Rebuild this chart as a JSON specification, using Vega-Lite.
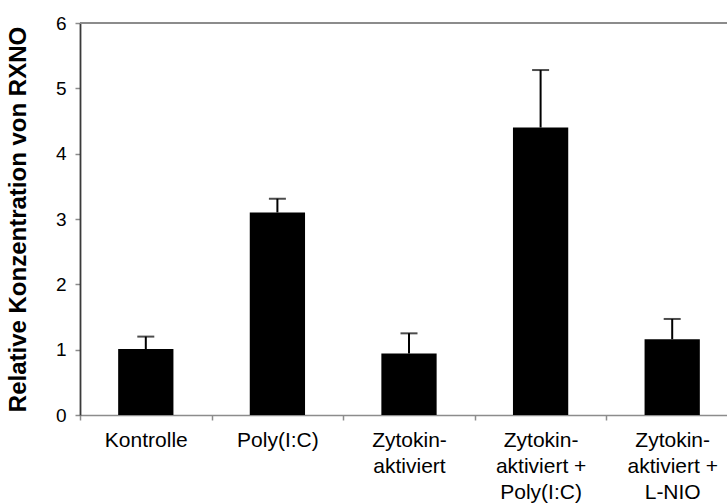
{
  "$schema": "https://vega.github.io/schema/vega-lite/v6.json",
  "autosize": "none",
  "width": 647,
  "height": 392,
  "padding": {"left": 80, "top": 23, "right": 0, "bottom": 89},
  "background": "white",
  "config": {
    "view": {"stroke": null},
    "font": "Liberation Sans",
    "axis": {"grid": false, "labelColor": "#000", "titleColor": "#000", "labelFont": "Liberation Sans", "titleFont": "Liberation Sans"}
  },
  "data": {
    "values": [
      {"gruppe": "Kontrolle", "wert": 1.01, "oben": 1.2},
      {"gruppe": "Poly(I:C)", "wert": 3.1, "oben": 3.31},
      {"gruppe": "Zytokin-\naktiviert", "wert": 0.94, "oben": 1.25},
      {"gruppe": "Zytokin-\naktiviert +\nPoly(I:C)", "wert": 4.4, "oben": 5.28},
      {"gruppe": "Zytokin-\naktiviert +\nL-NIO", "wert": 1.16, "oben": 1.47}
    ]
  },
  "encoding": {
    "x": {
      "field": "gruppe",
      "type": "nominal",
      "sort": null,
      "scale": {"range": [0, 658], "paddingInner": 0, "paddingOuter": 0},
      "axis": {
        "title": null,
        "labelAngle": 0,
        "labelExpr": "isValid(datum.value) ? split(datum.value, '\\n') : ''",
        "labelFontSize": 21,
        "labelLineHeight": 26,
        "labelPadding": 9,
        "labelBaseline": "top",
        "tickBand": "extent",
        "tickSize": 5,
        "tickColor": "#8c8c8c",
        "tickWidth": 1.5,
        "domainColor": "#8c8c8c",
        "domainWidth": 1.5
      }
    }
  },
  "layer": [
    {
      "mark": {"type": "rule", "color": "#8c8c8c", "strokeWidth": 1.5},
      "encoding": {"x": null, "y": {"datum": 6}}
    },
    {
      "mark": {"type": "bar", "color": "#000", "width": {"band": 0.42}},
      "encoding": {
        "y": {
          "field": "wert",
          "type": "quantitative",
          "scale": {"domain": [0, 6], "nice": false},
          "axis": {
            "title": "Relative Konzentration von RXNO",
            "titleFontSize": 24,
            "titleFontWeight": "bold",
            "titlePadding": 25,
            "values": [0, 1, 2, 3, 4, 5, 6],
            "format": "d",
            "labelFontSize": 19,
            "labelPadding": 9,
            "tickSize": 5,
            "tickColor": "#8c8c8c",
            "tickWidth": 1.5,
            "domainColor": "#3a3a3a",
            "domainWidth": 1.8
          }
        }
      }
    },
    {
      "mark": {"type": "rule", "color": "#000", "strokeWidth": 2},
      "encoding": {
        "y": {"field": "wert", "type": "quantitative"},
        "y2": {"field": "oben"}
      }
    },
    {
      "mark": {"type": "tick", "color": "#000", "size": 17, "thickness": 2},
      "encoding": {
        "y": {"field": "oben", "type": "quantitative"}
      }
    }
  ]
}
